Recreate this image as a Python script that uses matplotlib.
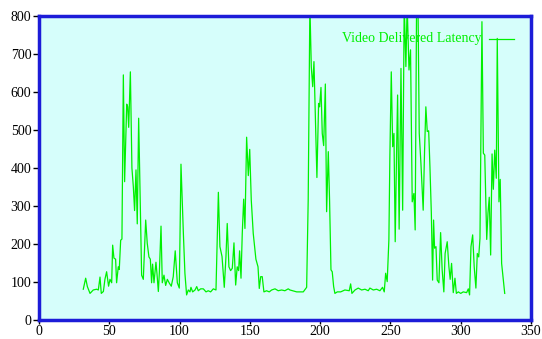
import matplotlib
matplotlib.use("Agg")
import matplotlib.pyplot as plt

x_vals = [31.5, 33.2, 34.4, 36.3, 38.6, 41.0, 42.2, 43.4, 44.3, 45.8, 46.9, 48.1, 49.5, 50.5, 51.7,
          52.4, 53.3, 54.5, 55.2, 56.4, 57.1, 58.1, 59.0, 60.0, 60.9, 62.4, 63.1, 63.8, 65.0, 66.1,
          67.1, 68.0, 69.0, 69.9, 70.9, 71.8, 73.0, 74.2, 75.9, 77.0, 78.2, 79.2, 80.1, 80.8, 81.8,
          83.2, 83.9, 84.9, 85.6, 86.8, 87.7, 88.9, 90.1, 91.3, 92.7, 94.1, 95.5, 96.9, 98.4, 99.8,
          101.0, 102.7, 103.8, 105.0, 106.2, 107.4, 108.1, 109.3, 111.0, 112.2, 113.3, 115.0, 116.9,
          118.8, 120.4, 122.1, 124.0, 125.9, 127.6, 128.7, 130.2, 131.8, 133.0, 133.9, 135.1, 136.3,
          137.5, 138.7, 139.9, 141.0, 142.0, 142.7, 143.7, 144.6, 145.6, 146.5, 147.7, 148.9, 149.9,
          151.0, 152.4, 154.3, 155.8, 156.7, 157.7, 158.8, 160.0, 161.9, 163.8, 165.5, 167.9, 170.2,
          172.6, 174.9, 177.3,
          178.5, 183.3, 188.0, 190.4, 191.5, 192.7, 193.7, 194.7, 195.6, 196.8, 197.7, 198.9, 199.6,
          200.6, 201.5, 202.5, 203.7, 204.6, 205.8, 206.7, 207.7, 208.6, 209.6, 210.5, 212.2, 214.6,
          217.6, 220.7, 221.7, 222.6, 224.8, 227.1, 229.5, 231.9, 234.2, 235.4, 237.8, 240.2, 242.5,
          244.4, 245.6, 246.6, 247.7, 248.9, 249.6, 250.6, 251.6, 252.5, 253.4, 254.4, 255.1, 256.2,
          257.5, 258.7, 259.8, 261.0, 261.9, 263.2, 264.3, 265.5, 266.7, 267.6, 268.6, 269.6, 270.5,
          271.7, 273.3, 274.3, 275.2, 276.2, 277.2, 278.1, 279.1, 280.0, 280.7, 281.4, 282.4, 283.3,
          284.5, 285.7, 286.8, 288.0, 288.9, 290.4, 291.6, 292.5, 293.5, 294.7, 295.9, 296.9, 298.3,
          300.0, 301.8, 304.2, 305.4, 306.3, 307.3, 308.5, 309.6, 310.8, 311.8, 312.8, 313.7, 315.1,
          316.1, 317.1, 318.5, 319.4, 320.3, 321.3, 322.3, 323.2, 324.2, 325.3, 326.0, 327.2, 328.1,
          329.1, 330.2, 331.3]

latency = [81, 110, 88, 70, 79, 81, 79, 113, 70, 75, 107, 127, 89, 107, 98,
           197, 163, 160, 98, 140, 133, 210, 213, 645, 364, 568, 561, 507, 653, 400,
           351, 288, 395, 253, 531, 351, 118, 107, 263, 202, 166, 160, 98, 147, 98,
           152, 123, 75, 123, 247, 98, 118, 91, 107, 97, 89, 114, 182, 98, 84,
           410, 228, 123, 66, 79, 74, 86, 74, 79, 88, 77, 82, 82,
           74, 77, 74, 82, 79, 336, 193, 167, 86, 167, 254, 140, 130,
           136, 203, 92, 140, 130, 182, 110, 228, 318, 241, 481, 380, 449,
           316, 228, 160, 140, 83, 114, 114, 74, 77, 74, 79, 82, 77,
           79, 77, 82,
           79, 74, 74, 86, 316, 830, 667, 614, 680, 500, 375, 570, 561,
           612, 491, 459, 621, 285, 443, 316, 132, 127, 88, 70, 74, 74,
           79, 77, 95, 70, 79, 84, 79, 81, 77, 84, 79, 81, 77,
           86, 74, 123, 101, 211, 430, 653, 456, 491, 206, 447, 592, 239,
           662, 289, 830, 667, 830, 658, 711, 311, 333, 237, 830, 830, 491,
           412, 289, 447, 561, 496, 498, 404, 281, 105, 263, 189, 193, 105,
           98, 230, 132, 74, 175, 206, 140, 107, 149, 72, 110, 70, 74,
           70, 74, 72, 82, 66, 193, 224, 140, 84, 175, 166, 215, 785,
           439, 434, 212, 281, 323, 171, 437, 344, 447, 373, 741, 311, 370,
           149, 110, 70]

x_ticks = [0, 50, 100, 150, 200, 250, 300, 350]
y_ticks = [0, 100, 200, 300, 400, 500, 600, 700, 800]
series_label = "Video Delivered Latency"

plt.rcParams['font.family'] = ['Liberation Serif', 'DejaVu Serif']

fig = plt.figure(figsize=(5.42, 3.39), dpi=100)
ax = fig.add_axes([39/542, 1 - 320/339, (531-39)/542, (320-16)/339])
ax.set_facecolor('#d6fefb')

line_color = '#00f000'
ax.plot(x_vals, latency, color=line_color, lw=0.9)
ax.set_xlim(0, 350)
ax.set_ylim(0, 800)
ax.set_xticks(x_ticks)
ax.set_yticks(y_ticks)
ax.tick_params(axis='both', direction='out', width=1, labelsize=10, colors='black',
               top=False, right=False)
ax.tick_params(axis='x', length=3, pad=0.5)
ax.tick_params(axis='y', length=4, pad=1.5)

for s in ax.spines.values():
    s.set_color('#1c1cd8')
    s.set_linewidth(2.5)

# legend (gnuplot style: text right-aligned, sample line to the right)
ax.text(0.899, 0.925, series_label, transform=ax.transAxes, ha='right', va='center',
        color=line_color, fontsize=10)
ax.plot([0.915, 0.966], [0.925, 0.925], transform=ax.transAxes, color=line_color, lw=0.9)

fig.savefig('out.png', dpi=100)
